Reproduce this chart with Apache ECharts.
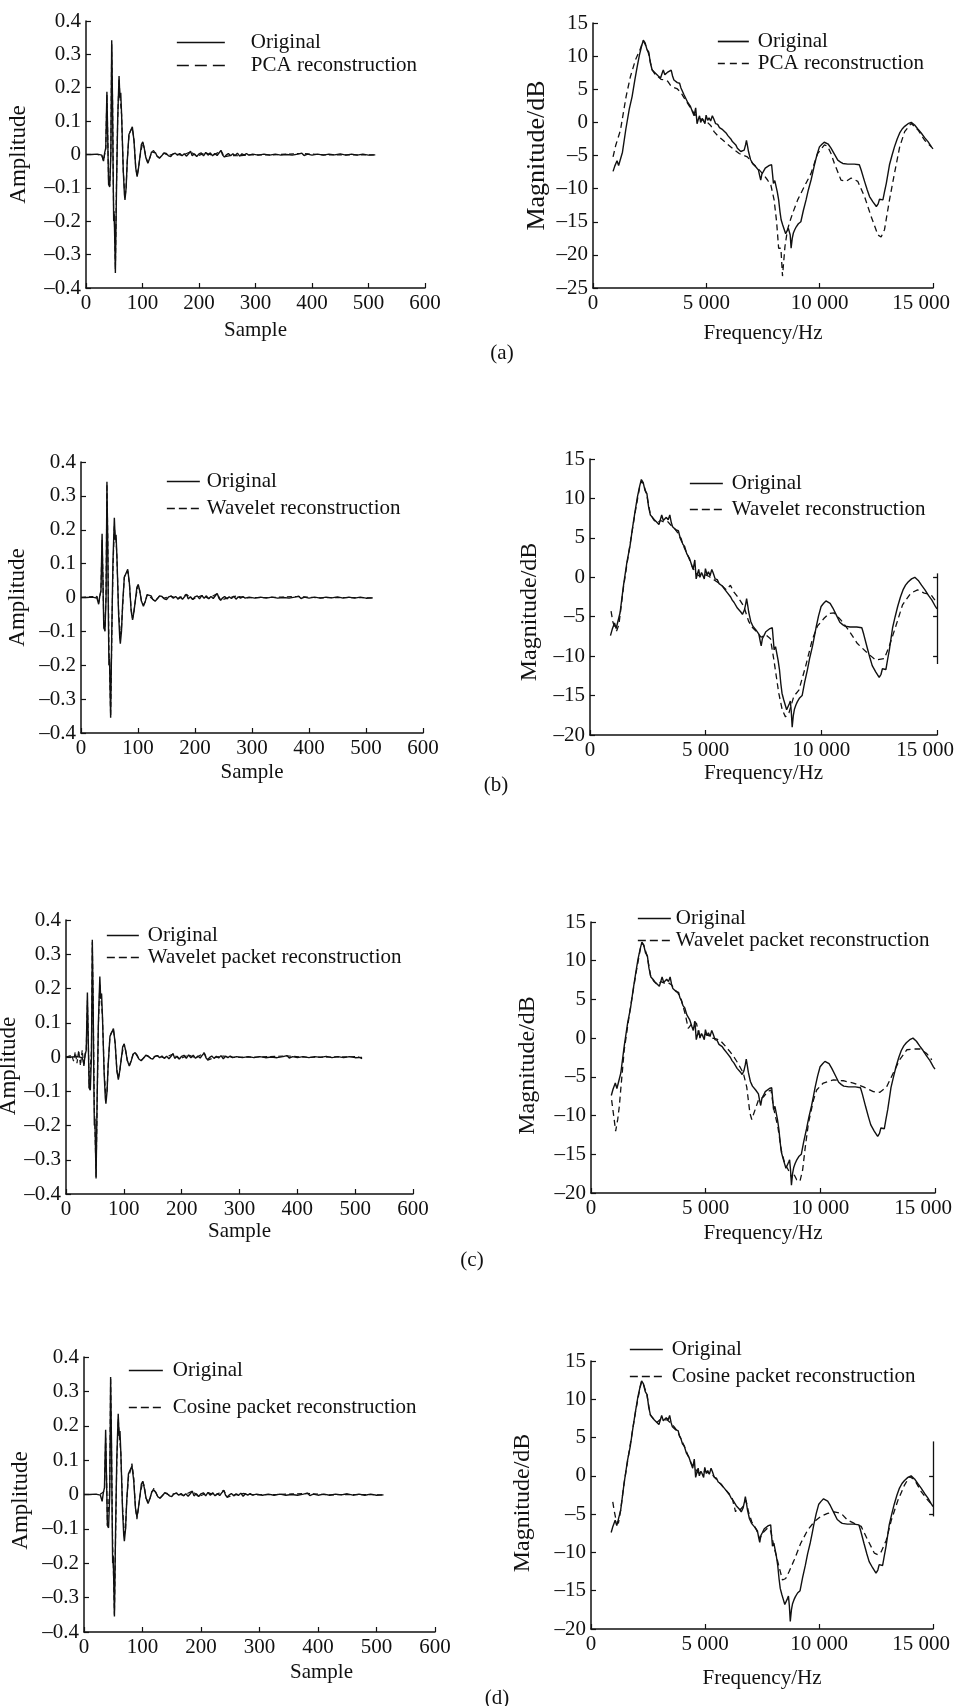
<!DOCTYPE html>
<html>
<head>
<meta charset="utf-8">
<title>Reconstruction comparison</title>
<script src="https://cdn.jsdelivr.net/npm/echarts@6/dist/echarts.min.js"></script>
<style>
  html, body { margin: 0; padding: 0; background: #fff; }
  #chart { width: 957px; height: 1706px; }
</style>
</head>
<body>
<div id="chart"></div>
<script>
// time domain: [sample, amplitude]
const origWave = [
  [0,0],[10,0],[20,0.001],[28,-0.002],[31,-0.02],[33,0.005],[35,0.02],[37,0.188],[39,0],[40,-0.09],[42,-0.097],
  [44,0],[45.5,0.342],[47,0.15],[48,-0.05],[49,-0.2],[50,-0.18],[52,-0.355],[54,-0.1],[56,0.1],[58.5,0.235],
  [60,0.17],[61.5,0.185],[63,0.12],[66,-0.05],[68,-0.12],[69,-0.136],[71,-0.1],[73,-0.02],[76,0.06],[78,0.065],
  [82,0.083],[85,0.04],[88,-0.04],[90.5,-0.066],[93,-0.04],[96,0],[98,0.03],[100.5,0.038],[103,0.02],[106,-0.01],
  [109.5,-0.026],[113,-0.01],[116,0.008],[119.5,0.013],[123,0.005],[126,-0.006],[130,-0.011],[134,-0.004],
  [138,0.005],[142,0.003],[146,-0.004],[150,-0.006],[154,0.002],[158,0.004],[162,-0.002],[166,0.003],[170,-0.004],
  [174,0.002],[178,-0.005],[182,0.003],[185,0.01],[188,-0.004],[192,0.002],[196,-0.006],[200,0.002],[204,0.005],
  [208,-0.004],[212,0.006],[216,-0.002],[220,0.005],[224,-0.004],[228,0.003],[232,-0.003],[236,0.006],[239,0.012],
  [242,-0.002],[245,-0.008],[248,-0.002],[252,0.003],[256,-0.004],[260,0.002],[264,-0.003],[268,0.004],[272,-0.005],
  [276,0.002],[280,-0.002],[284,0.003],[288,-0.002],[295,0.001],[305,-0.002],[315,0.001],[325,-0.002],[335,0.001],
  [345,-0.002],[355,0],[365,-0.002],[375,0.001],[382,0.004],[386,-0.003],[392,0.001],[400,-0.002],[410,0.001],
  [420,-0.002],[430,0.001],[440,-0.001],[450,0.002],[460,-0.002],[470,0.001],[480,-0.002],[490,0.001],[500,-0.002],[512,-0.001]
];
const pcaWave = [
  [0,0],[20,0],[28,-0.003],[31,-0.018],[35,0.018],[37,0.18],[39,0.01],[40,-0.085],[42,-0.094],[44,0.01],[45.5,0.33],
  [47,0.16],[49,-0.19],[50,-0.17],[52,-0.345],[54,-0.09],[56,0.1],[58.5,0.228],[60,0.175],[61.5,0.18],[63,0.12],
  [66,-0.05],[69,-0.13],[71,-0.1],[73,-0.02],[76,0.055],[78,0.068],[82,0.08],[85,0.042],[88,-0.038],[90.5,-0.064],
  [93,-0.04],[96,0],[100.5,0.036],[103,0.02],[106,-0.008],[109.5,-0.024],[113,-0.01],[116,0.006],[119.5,0.012],
  [126,-0.004],[130,-0.01],[138,0.004],[146,-0.003],[158,0.003],[170,-0.003],[185,0.008],[196,-0.005],[212,0.005],
  [224,-0.003],[239,0.011],[245,-0.007],[256,-0.003],[272,-0.004],[290,-0.001],[330,-0.001],[382,0.003],[420,-0.001],[460,-0.001],[512,-0.001]
];
const waveletWave = [
  [0,0],[20,0.003],[24,-0.004],[28,0.004],[31,-0.015],[35,0.02],[37,0.17],[39,0.02],[40,-0.08],[42,-0.1],[44,0.02],
  [45.5,0.335],[47,0.17],[49,-0.15],[50,-0.2],[52,-0.35],[54,-0.12],[56,0.08],[58.5,0.21],[60,0.18],[61.5,0.17],
  [63,0.12],[66,-0.04],[69,-0.11],[71,-0.09],[73,-0.03],[76,0.06],[78,0.07],[82,0.078],[85,0.04],[88,-0.035],
  [90.5,-0.062],[93,-0.04],[96,0],[100.5,0.038],[103,0.02],[106,-0.01],[109.5,-0.022],[113,-0.012],[116,0.008],
  [119.5,0.012],[126,-0.005],[130,-0.01],[138,0.005],[146,-0.002],[158,0.004],[170,-0.004],[185,0.009],[196,-0.005],
  [212,0.006],[224,-0.003],[239,0.012],[245,-0.008],[256,-0.002],[272,0.004],[290,-0.001],[330,0],[382,0.003],[420,-0.001],[460,0],[512,-0.001]
];
const wpWave = [
  [0,0],[10,0.005],[13,-0.012],[16,0.015],[19,-0.018],[22,0.02],[25,-0.025],[28,0.02],[31,-0.03],[33,0.01],[35,0.02],
  [37,0.165],[39,0.01],[40,-0.09],[42,-0.095],[44,0.02],[45.5,0.335],[47,0.15],[49,-0.15],[50,-0.2],[52,-0.35],
  [54,-0.12],[56,0.09],[58.5,0.215],[60,0.18],[61.5,0.175],[63,0.12],[66,-0.04],[69,-0.12],[71,-0.1],[73,-0.02],
  [76,0.06],[78,0.07],[82,0.08],[85,0.04],[88,-0.04],[90.5,-0.062],[93,-0.04],[96,0],[100.5,0.038],[103,0.02],
  [106,-0.01],[109.5,-0.024],[113,-0.01],[116,0.008],[119.5,0.012],[126,-0.005],[130,-0.01],[138,0.005],[146,-0.002],
  [158,0.004],[170,-0.003],[185,0.009],[196,-0.006],[212,0.006],[224,-0.003],[239,0.012],[245,-0.009],[256,-0.002],
  [272,0.003],[290,-0.001],[330,0],[382,0.003],[420,-0.001],[460,0],[505,0.001],[512,-0.005]
];
const cpWave = [
  [0,0],[20,0],[28,0.001],[31,-0.004],[35,0.01],[37,0.165],[39,0.02],[40,-0.09],[42,-0.095],[44,0.02],[45.5,0.34],
  [47,0.14],[49,-0.15],[50,-0.2],[52,-0.35],[54,-0.12],[56,0.09],[58.5,0.22],[60,0.18],[61.5,0.18],[63,0.12],
  [66,-0.04],[69,-0.115],[71,-0.1],[73,-0.02],[76,0.05],[78,0.06],[82,0.09],[85,0.05],[88,-0.04],[90.5,-0.072],
  [93,-0.04],[96,0],[100.5,0.038],[103,0.025],[106,-0.01],[109.5,-0.022],[113,-0.01],[116,0.008],[119.5,0.018],
  [126,-0.006],[130,-0.01],[138,0.005],[146,-0.002],[158,0.004],[170,-0.003],[185,0.01],[196,-0.006],[212,0.006],
  [224,-0.003],[239,0.012],[245,-0.008],[256,-0.002],[272,0.003],[290,-0.001],[330,0],[382,0.003],[420,-0.001],[460,0],[512,-0.001]
];

// spectra: [frequency Hz, magnitude dB]
const origSpec = [
  [885,-7.4],[960,-6.6],[1060,-5.8],[1130,-6.5],[1210,-6.6],[1300,-4.5],[1450,-1.0],[1600,2.0],[1725,3.9],[1850,6.5],
  [1950,8.4],[2050,10.2],[2150,11.6],[2220,12.4],[2300,12.0],[2380,11.0],[2460,10.6],[2530,9.0],[2610,7.9],[2700,7.6],
  [2780,7.3],[2880,7.0],[2980,6.7],[3050,7.4],[3100,7.9],[3170,7.2],[3230,7.0],[3300,7.6],[3380,7.3],[3450,7.9],
  [3510,7.0],[3570,6.4],[3640,6.6],[3720,6.0],[3820,5.9],[3880,5.2],[3940,4.9],[4010,4.2],[4090,3.9],[4180,3.0],
  [4300,2.4],[4400,1.5],[4460,1.0],[4530,2.2],[4590,-0.2],[4650,0.5],[4700,1.0],[4750,0.0],[4820,0.6],[4870,0.3],
  [4940,-0.2],[4990,1.1],[5060,0.3],[5120,0.7],[5190,0.2],[5265,1.0],[5330,0.5],[5410,-0.2],[5500,-0.3],[5580,-0.8],
  [5640,-0.6],[5720,-1.1],[5790,-1.4],[5870,-1.6],[5950,-2.0],[6010,-2.2],[6080,-2.5],[6150,-2.9],[6230,-3.2],
  [6300,-3.4],[6370,-3.9],[6450,-4.1],[6520,-4.4],[6590,-4.7],[6670,-4.2],[6730,-3.4],[6770,-2.7],[6830,-3.8],
  [6860,-4.4],[6950,-5.6],[7040,-6.2],[7110,-6.4],[7180,-6.7],[7250,-6.9],[7300,-7.2],[7350,-8.0],[7400,-8.7],
  [7450,-7.8],[7520,-7.4],[7600,-6.9],[7680,-6.7],[7780,-6.5],[7880,-6.4],[7960,-9.2],[8020,-8.8],[8070,-9.0],
  [8130,-10.5],[8190,-11.7],[8250,-13.5],[8300,-14.7],[8370,-15.5],[8440,-16.2],[8500,-16.8],[8560,-16.7],[8620,-16.0],
  [8660,-15.7],[8700,-17.0],[8740,-19.0],[8790,-17.5],[8840,-16.7],[8900,-16.2],[8960,-15.8],[9060,-15.3],[9170,-15.0],
  [9280,-13.3],[9400,-11.7],[9500,-10.2],[9620,-8.7],[9700,-7.5],[9770,-6.4],[9880,-4.9],[9990,-3.7],[10100,-3.3],
  [10200,-3.0],[10280,-2.9],[10380,-3.3],[10500,-3.9],[10650,-4.8],[10800,-5.7],[10920,-6.0],[11020,-6.2],[11240,-6.3],
  [11530,-6.3],[11750,-6.4],[11830,-7.2],[11980,-8.9],[12100,-10.2],[12200,-11.2],[12350,-12.0],[12500,-12.7],
  [12580,-12.3],[12640,-11.6],[12790,-11.7],[12860,-10.5],[12940,-9.2],[13010,-7.8],[13080,-6.4],[13190,-5.0],
  [13300,-3.7],[13420,-2.5],[13530,-1.6],[13640,-1.0],[13750,-0.6],[13900,-0.2],[14040,0.0],[14190,-0.4],[14330,-1.0],
  [14480,-1.6],[14630,-2.3],[14780,-2.9],[14930,-3.7],[15000,-4.0]
];
const pcaSpec = [
  [885,-5.2],[1000,-3.5],[1210,-1.2],[1460,3.9],[1650,6.9],[1870,9.4],[2090,11.1],[2210,12.3],[2300,11.8],[2450,10.4],
  [2600,8.0],[2750,7.2],[2900,6.8],[3000,6.5],[3150,6.4],[3300,6.2],[3420,5.6],[3550,5.3],[3700,5.1],[3860,4.6],
  [4000,3.8],[4150,3.0],[4300,2.2],[4450,1.4],[4600,0.8],[4750,0.5],[4900,0.3],[5050,0.0],[5200,-0.5],[5340,-1.4],
  [5500,-2.0],[5700,-2.6],[5900,-3.2],[6080,-3.7],[6250,-4.2],[6450,-4.7],[6600,-4.9],[6810,-5.2],[7050,-6.2],
  [7260,-6.9],[7500,-7.8],[7700,-8.7],[7850,-9.5],[7990,-11.7],[8100,-15.0],[8190,-19.0],[8290,-19.0],[8360,-23.2],
  [8470,-18.7],[8580,-16.2],[8700,-14.8],[8810,-13.7],[9030,-11.7],[9320,-9.7],[9620,-7.7],[9910,-4.7],[10210,-3.4],
  [10350,-3.6],[10500,-4.7],[10650,-6.2],[10800,-7.5],[10940,-8.7],[11170,-8.9],[11390,-8.4],[11680,-8.9],[11980,-11.2],
  [12270,-14.2],[12570,-17.0],[12710,-17.3],[12860,-16.2],[13080,-11.7],[13300,-7.7],[13530,-3.7],[13750,-1.4],
  [14040,-0.15],[14340,-1.15],[14630,-2.7],[14930,-3.7]
];
const waveletSpec = [
  [910,-4.3],[985,-5.6],[1060,-6.3],[1150,-6.8],[1250,-6.0],[1450,-1.2],[1700,3.6],[1950,8.2],[2150,11.5],[2220,12.2],
  [2300,11.9],[2450,10.5],[2600,8.1],[2750,7.3],[2900,6.9],[3050,7.2],[3200,7.0],[3350,7.1],[3500,6.6],[3650,6.2],
  [3800,5.6],[3950,4.6],[4100,3.6],[4250,2.6],[4400,1.5],[4550,0.6],[4700,0.2],[4850,0.2],[5000,0.3],[5150,0.1],
  [5300,-0.2],[5450,-0.5],[5600,-0.8],[5750,-1.2],[5900,-1.6],[6070,-1.0],[6200,-1.8],[6360,-2.4],[6500,-3.0],
  [6650,-3.7],[6860,-5.6],[7000,-6.3],[7200,-6.9],[7400,-7.6],[7600,-7.3],[7800,-7.8],[7950,-10.5],[8160,-14.7],
  [8310,-16.8],[8450,-17.7],[8600,-17.2],[8810,-15.1],[9030,-14.3],[9320,-11.3],[9610,-7.9],[9830,-6.2],[10120,-5.2],
  [10330,-4.6],[10550,-4.5],[10840,-5.4],[11130,-6.5],[11560,-8.4],[11990,-9.6],[12350,-10.5],[12720,-10.3],
  [12930,-8.8],[13220,-6.2],[13510,-3.5],[13870,-2.0],[14160,-1.6],[14450,-2.0],[14740,-2.2],[14910,-2.9]
];
const wpSpec = [
  [900,-8.0],[975,-9.7],[1075,-12.0],[1165,-10.5],[1235,-8.8],[1295,-6.7],[1450,-1.5],[1700,3.6],[1950,8.2],[2150,11.5],
  [2220,12.3],[2300,12.0],[2450,10.6],[2600,8.0],[2750,7.3],[2900,6.9],[3050,7.3],[3200,7.1],[3350,7.2],[3500,6.9],
  [3650,6.3],[3800,5.8],[3950,4.8],[4100,3.2],[4240,1.25],[4320,1.2],[4460,2.1],[4600,1.9],[4700,0.5],[4850,0.2],
  [5000,0.5],[5150,0.3],[5300,0.0],[5450,-0.1],[5625,-0.25],[5850,-1.0],[6060,-1.75],[6250,-2.5],[6420,-3.3],
  [6640,-4.5],[6790,-6.3],[6930,-9.7],[7010,-10.5],[7150,-9.3],[7300,-8.0],[7515,-7.6],[7700,-6.9],[7850,-6.7],
  [7960,-9.0],[8150,-11.5],[8300,-14.5],[8450,-16.2],[8600,-17.0],[8750,-18.0],[8820,-17.4],[8970,-18.3],[9110,-18.5],
  [9230,-17.0],[9330,-14.4],[9480,-11.0],[9700,-8.0],[9840,-6.7],[10130,-5.8],[10570,-5.4],[11000,-5.5],[11440,-5.8],
  [11880,-6.3],[12310,-6.9],[12600,-7.0],[12890,-6.3],[13180,-4.5],[13470,-2.75],[13770,-1.5],[14060,-1.4],
  [14350,-1.4],[14640,-2.0],[14860,-2.8]
];
const cpSpec = [
  [955,-3.4],[1015,-4.5],[1100,-5.8],[1200,-6.2],[1300,-4.5],[1450,-1.0],[1700,3.7],[1950,8.3],[2150,11.5],[2220,12.3],
  [2300,12.0],[2450,10.6],[2600,8.0],[2750,7.4],[2900,7.0],[3050,7.4],[3200,7.3],[3350,7.3],[3500,6.9],[3650,6.4],
  [3800,5.8],[3950,4.8],[4100,3.8],[4250,2.7],[4400,1.6],[4550,1.0],[4700,0.4],[4850,0.4],[5000,0.6],[5150,0.4],
  [5300,0.2],[5450,-0.3],[5600,-0.8],[5750,-1.3],[5900,-1.8],[6050,-2.3],[6200,-3.0],[6340,-4.7],[6400,-4.3],
  [6550,-4.4],[6700,-3.9],[6800,-3.2],[6900,-4.6],[7050,-6.0],[7250,-7.0],[7400,-8.2],[7550,-7.4],[7750,-6.8],
  [7880,-7.2],[8030,-9.3],[8250,-11.9],[8400,-13.6],[8540,-13.4],[8690,-12.5],[8910,-11.0],[9200,-8.8],[9500,-7.1],
  [9790,-6.0],[10080,-5.3],[10380,-4.9],[10670,-4.7],[10970,-4.9],[11260,-5.8],[11550,-6.2],[11850,-6.6],[12140,-8.4],
  [12430,-10.1],[12580,-10.3],[12730,-9.9],[12950,-8.4],[13170,-5.8],[13460,-3.2],[13750,-1.2],[13970,-0.1],
  [14190,-0.5],[14490,-2.1],[14780,-3.2],[14960,-3.8]
];

// stray axis fragments at the right edge of (b) and (d)
const bStray = [[[15000,0.5],[15000,-11]],[[14830,0],[15000,0]],[[14830,-5],[15000,-5]],[[14830,-10],[15000,-10]]];
const dStray = [[[15000,4.5],[15000,-5.3]],[[14830,0],[15000,0]],[[14830,-5],[15000,-5]]];

const reconNames = ['PCA reconstruction','Wavelet reconstruction','Wavelet packet reconstruction','Cosine packet reconstruction'];
const reconWaves = [pcaWave, waveletWave, wpWave, cpWave];
const reconSpecs = [pcaSpec, waveletSpec, wpSpec, cpSpec];
const strays = [null, bStray, null, dStray];
const panelTags = ['(a)','(b)','(c)','(d)'];
const timeTicks = { min: -0.4, max: 0.4, step: 0.1, xmax: 600, xstep: 100 };
const specMins = [-25, -20, -20, -20];

// layout, pixels. tLeg/fLeg: left, top, icon width, row gap, text pad
const L = [
  { tg:[86,21,339,267], fg:[593,23,340,265], tLeg:[176,32,48,2,21], fLeg:[717,31,31,1,4],
    tx:32, ty:56, fx:35, fy:43, tShift:0, ampShift:0, magShift:0, magSize:26, tag:[502,353], tDash:[12,6], fDash:[7,5] },
  { tg:[81,462,342,271], fg:[590,459,347,276], tLeg:[166,471,33,6,2], fLeg:[689,473,33,5,4],
    tx:29, ty:52, fx:28, fy:48, tShift:0, ampShift:0, magShift:30, magSize:24, tag:[496,785], tDash:[8,4], fDash:[8,4] },
  { tg:[66,920,347,274], fg:[591,922,344,271], tLeg:[106,925,32,1,4], fLeg:[637,908,33,1,0],
    tx:27, ty:39, fx:30, fy:51, tShift:0, ampShift:18, magShift:16, magSize:24, tag:[472,1260], tDash:[8,4], fDash:[8,4] },
  { tg:[84,1357,351,275], fg:[591,1361,342,268], tLeg:[128,1360,34,16,5], fLeg:[629,1339,33,6,4],
    tx:30, ty:52, fx:39, fy:56, tShift:124, ampShift:12, magShift:16, magSize:24, tag:[497,1698], tDash:[8,4], fDash:[8,4] }
];

const INK = '#111';
const FONT = 'Liberation Serif';

function minus(s) { return s.replace('-', '\u2013'); }
const ampFmt = v => { const r = Math.round(v * 10) / 10; return r === 0 ? '0' : minus(r.toFixed(1)); };
const dbFmt = v => v === 0 ? '0' : minus(String(v));
// last frequency label sits a little left of its tick, as in the source
const hzFmt = v => v === 0 ? '0' : (v === 15000 ? '{last|15 000}' : (v / 1000) + ' 000');

function axisBase() {
  return {
    axisLine: { show: true, onZero: false, lineStyle: { color: INK, width: 1.5 } },
    axisTick: { show: true, inside: true, length: 5, lineStyle: { color: INK, width: 1.2 } },
    splitLine: { show: false },
    axisLabel: { color: INK, fontFamily: FONT, fontSize: 21, margin: 5 },
    nameTextStyle: { color: INK, fontFamily: FONT, fontSize: 21 },
    nameLocation: 'middle'
  };
}

const grid = [], xAxis = [], yAxis = [], series = [], legend = [], graphic = [];

L.forEach((p, i) => {
  [p.tg, p.fg].forEach(g => grid.push({ left: g[0], top: g[1], width: g[2], height: g[3], containLabel: false, outerBoundsMode: 'none' }));
  const ti = 2 * i, fi = 2 * i + 1;

  const txa = axisBase();
  xAxis.push(Object.assign(txa, { type: 'value', gridIndex: ti, min: 0, max: timeTicks.xmax, interval: timeTicks.xstep,
    name: 'Sample', nameGap: p.tx, nameTextStyle: Object.assign(txa.nameTextStyle, { padding: [0, 0, 0, p.tShift] }) }));
  const tya = axisBase();
  yAxis.push(Object.assign(tya, { type: 'value', gridIndex: ti, min: timeTicks.min, max: timeTicks.max, interval: timeTicks.step,
    name: 'Amplitude', nameGap: p.ty, axisLabel: Object.assign(tya.axisLabel, { formatter: ampFmt }),
    nameTextStyle: Object.assign(tya.nameTextStyle, { fontSize: 23, padding: [0, p.ampShift, 0, 0] }) }));
  const fxa = axisBase();
  xAxis.push(Object.assign(fxa, { type: 'value', gridIndex: fi, min: 0, max: 15000, interval: 5000,
    name: 'Frequency/Hz', nameGap: p.fx,
    axisLabel: Object.assign(fxa.axisLabel, { formatter: hzFmt, rich: { last: { fontFamily: FONT, fontSize: 21, color: INK, padding: [0, 24, 0, 0] } } }) }));
  const fya = axisBase();
  yAxis.push(Object.assign(fya, { type: 'value', gridIndex: fi, min: specMins[i], max: 15, interval: 5,
    name: 'Magnitude/dB', nameGap: p.fy, axisLabel: Object.assign(fya.axisLabel, { formatter: dbFmt }),
    nameTextStyle: Object.assign(fya.nameTextStyle, { fontSize: p.magSize, padding: [0, p.magShift, 0, 0] }) }));

  const solid = { color: INK, width: 1.4, type: 'solid' };
  series.push({ type: 'line', name: 'Original', xAxisIndex: ti, yAxisIndex: ti, data: origWave,
    symbol: 'none', lineStyle: solid, silent: true, z: 2 });
  series.push({ type: 'line', name: reconNames[i], xAxisIndex: ti, yAxisIndex: ti, data: reconWaves[i],
    symbol: 'none', lineStyle: { color: INK, width: 1.2, type: [5, 3] }, silent: true, z: 3 });
  series.push({ type: 'line', name: 'Original', xAxisIndex: fi, yAxisIndex: fi, data: origSpec,
    symbol: 'none', lineStyle: solid, silent: true, z: 2 });
  const fr = { type: 'line', name: reconNames[i], xAxisIndex: fi, yAxisIndex: fi, data: reconSpecs[i],
    symbol: 'none', lineStyle: { color: INK, width: 1.3, type: [6, 4] }, silent: true, z: 3 };
  if (strays[i]) {
    fr.markLine = { silent: true, symbol: ['none', 'none'], label: { show: false }, animation: false,
      lineStyle: { color: INK, width: 1.3, type: 'solid' },
      data: strays[i].map(seg => [{ coord: seg[0] }, { coord: seg[1] }]) };
  }
  series.push(fr);

  [[p.tLeg, p.tDash], [p.fLeg, p.fDash]].forEach(([lg, dash]) => {
    legend.push({
      orient: 'vertical', left: lg[0], top: lg[1], padding: 0, itemWidth: lg[2], itemHeight: 4, itemGap: lg[3],
      selectedMode: false, itemStyle: { opacity: 0 },
      textStyle: { color: INK, fontFamily: FONT, fontSize: 21, padding: [0, 0, 0, lg[4]] },
      data: [
        { name: 'Original', lineStyle: { color: INK, width: 1.7, type: 'solid' } },
        { name: reconNames[i], lineStyle: { color: INK, width: 1.7, type: dash } }
      ]
    });
  });

  graphic.push({ type: 'text', x: p.tag[0], y: p.tag[1],
    style: { text: panelTags[i], fill: INK, font: '21px "Liberation Serif"', align: 'center', verticalAlign: 'middle' } });
});

const chart = echarts.init(document.getElementById('chart'), null, { renderer: 'canvas' });
chart.setOption({
  backgroundColor: '#fff',
  animation: false,
  grid, xAxis, yAxis, series, legend, graphic
});
</script>
</body>
</html>
